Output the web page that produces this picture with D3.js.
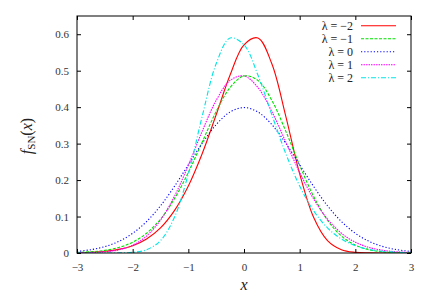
<!DOCTYPE html>
<html><head><meta charset="utf-8">
<script src="https://cdn.jsdelivr.net/npm/d3@7"></script>
<style>body{margin:0;background:#fff}svg{display:block}</style>
</head><body>
<script>
const xs = [-3,-2.75,-2.5,-2.25,-2,-1.75,-1.5,-1.25,-1,-0.75,-0.5,-0.25,0,0.25,0.5,0.75,1,1.25,1.5,1.75,2,2.25,2.5,2.75,3];
const lamM2 = [0.0008,0.0020,0.0046,0.0099,0.0201,0.0384,0.0688,0.1161,0.1837,0.2729,0.3791,0.4880,0.5710,0.5898,0.5189,0.3756,0.2170,0.0979,0.0339,0.0089,0.0018,0.0003,0.0000,0.0000,0.0000];
const lamM1 = [0.0014,0.0033,0.0073,0.0152,0.0296,0.0543,0.0929,0.1486,0.2209,0.3047,0.3879,0.4538,0.4856,0.4733,0.4185,0.3343,0.2405,0.1554,0.0900,0.0466,0.0215,0.0088,0.0032,0.0011,0.0003];
const lam0  = [0.0044,0.0091,0.0175,0.0317,0.0540,0.0863,0.1295,0.1826,0.2420,0.3011,0.3521,0.3867,0.3989,0.3867,0.3521,0.3011,0.2420,0.1826,0.1295,0.0863,0.0540,0.0317,0.0175,0.0091,0.0044];
const lamP1 = [0.0003,0.0011,0.0032,0.0088,0.0215,0.0466,0.0900,0.1554,0.2405,0.3343,0.4185,0.4733,0.4856,0.4538,0.3879,0.3047,0.2209,0.1486,0.0929,0.0543,0.0296,0.0152,0.0073,0.0033,0.0014];
const lamP2 = [0.0000,0.0000,0.0000,0.0003,0.0018,0.0089,0.0339,0.0979,0.2170,0.3756,0.5189,0.5898,0.5710,0.4880,0.3791,0.2729,0.1837,0.1161,0.0688,0.0384,0.0201,0.0099,0.0046,0.0020,0.0008];
const labels = ["\u03bb = \u22122","\u03bb = \u22121","\u03bb = 0","\u03bb = 1","\u03bb = 2"];
const xTicks = [-3,-2,-1,0,1,2,3];
const yTicks = [0,0.1,0.2,0.3,0.4,0.5,0.6];

const series = [lamM2,lamM1,lam0,lamP1,lamP2];
const colors = ["#ff0000","#00e000","#0000ff","#ff00ff","#00e5e5"];
const dashes = [null,"3,1.5","1.2,2","1.5,1","5,2,1,2"];
const FONT = '"Times New Roman","Liberation Serif","DejaVu Serif",serif';

const W=436,H=296, L=77,R=411,T=16,B=253;
const svg=d3.select("body").append("svg").attr("width",W).attr("height",H).attr("font-family",FONT);
const x=d3.scaleLinear().domain([-3,3]).range([L,R]);
const y=d3.scaleLinear().domain([0,0.65]).range([B,T]);

svg.append("clipPath").attr("id","c").append("rect").attr("x",L).attr("y",T).attr("width",R-L).attr("height",B-T);

const line=d3.line().x((d,i)=>x(xs[i])).y(d=>y(d)).curve(d3.curveCatmullRom.alpha(0.5));
series.forEach((s,i)=>{
  svg.append("path").attr("d",line(s)).attr("fill","none").attr("stroke",colors[i])
    .attr("stroke-width",1.1).attr("stroke-dasharray",dashes[i]).attr("clip-path","url(#c)");
});

const tl=4;
const ax=svg.append("g").attr("transform",`translate(0,${B})`).call(d3.axisBottom(x).tickValues(xTicks).tickSize(-tl).tickPadding(10).tickFormat(d3.format("d")));
const axT=svg.append("g").attr("transform",`translate(0,${T})`).call(d3.axisTop(x).tickValues(xTicks).tickSize(-tl).tickFormat(""));
const ay=svg.append("g").attr("transform",`translate(${L},0)`).call(d3.axisLeft(y).tickValues(yTicks).tickSize(-tl).tickPadding(8).tickFormat(d=>d===0?"0":d3.format(".1f")(d)));
const ayR=svg.append("g").attr("transform",`translate(${R},0)`).call(d3.axisRight(y).tickValues(yTicks).tickSize(-tl).tickFormat(""));
[ax,axT,ay,ayR].forEach(g=>{g.attr("font-family",FONT).attr("font-size",11);g.select(".domain").remove();g.selectAll("line").attr("stroke","#000");g.selectAll("text").attr("fill","#333");});

svg.append("rect").attr("x",L).attr("y",T).attr("width",R-L).attr("height",B-T).attr("fill","none").attr("stroke","#000").attr("stroke-width",1);

svg.append("text").attr("x",(L+R)/2).attr("y",290).attr("text-anchor","middle").attr("font-style","italic").attr("font-size",16).attr("fill","#222").text("x");
const yl=svg.append("text").attr("transform","translate(32,136) rotate(-90)").attr("text-anchor","middle").attr("font-size",16).attr("fill","#222");
yl.append("tspan").attr("font-style","italic").text("f");
yl.append("tspan").attr("dy",3).attr("font-size",11).text("SN");
yl.append("tspan").attr("dy",-3).text("(");
yl.append("tspan").attr("font-style","italic").text("x");
yl.append("tspan").text(")");

const ly=[25.7,38.7,51.7,64.7,77.7];
labels.forEach((t,i)=>{
  svg.append("text").attr("x",353).attr("y",ly[i]).attr("dy","0.35em").attr("text-anchor","end").attr("font-size",12).attr("fill","#222").text(t);
  svg.append("line").attr("x1",361).attr("x2",396).attr("y1",ly[i]).attr("y2",ly[i]).attr("stroke",colors[i]).attr("stroke-width",1.1).attr("stroke-dasharray",dashes[i]);
});
</script>
</body></html>
